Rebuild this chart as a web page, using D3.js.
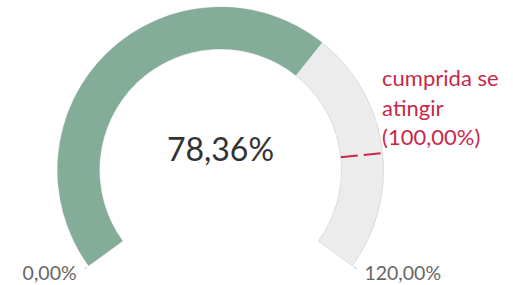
<!DOCTYPE html>
<meta charset="utf-8">
<style>
  body { margin: 0; background: #fff; }
  text { font-family: Lato, "Open Sans", sans-serif; }
</style>
<div id="gauge"></div>
<script src="https://d3js.org/d3.v7.min.js"></script>
<script>

// data
var value = 78.36;
var target = 100;
var domainMax = 120;
var tickValues = [0, 120];
var tickLabels = ["0,00%", "120,00%"];
var valueLabel = "78,36%";
var targetLabel = ["cumprida se", "atingir", "(100,00%)"];

var width = 513, height = 285;
var cx = 220.5, cy = 170;
var rOuter = 163, rInner = 121;

var svg = d3.select("#gauge")
  .append("svg")
    .attr("width", width)
    .attr("height", height);

var g = svg.append("g")
    .attr("transform", "translate(" + cx + "," + cy + ")");

// angle scale, 0 = 12 o'clock
var angle = d3.scaleLinear()
    .domain([0, domainMax])
    .range([-0.7 * Math.PI, 0.7 * Math.PI]);

var arc = d3.arc()
    .innerRadius(rInner)
    .outerRadius(rOuter);

// background track
g.append("path")
    .attr("d", arc({startAngle: angle(0), endAngle: angle(domainMax)}))
    .attr("fill", "#ececec")
    .attr("stroke", "#dcdcdc")
    .attr("stroke-width", 1);

// value arc
g.append("path")
    .attr("d", arc({startAngle: angle(0), endAngle: angle(value)}))
    .attr("fill", "#83ad98");

// point on circle for a value
function pt(v, r) {
  var a = angle(v);
  return [r * Math.sin(a), -r * Math.cos(a)];
}

// target marker
var p1 = pt(target, rInner), p2 = pt(target, rOuter);
g.append("line")
    .attr("x1", p1[0]).attr("y1", p1[1])
    .attr("x2", p2[0]).attr("y2", p2[1])
    .attr("stroke", "#c8284a")
    .attr("stroke-width", 2)
    .attr("stroke-dasharray", "17,6");

var tl = g.append("text")
    .attr("y", -84)
    .attr("fill", "#c8284a")
    .attr("font-size", 22);
tl.selectAll("tspan")
  .data(targetLabel)
  .enter().append("tspan")
    .attr("x", p2[0] - 0.5)
    .attr("dy", function(d, i) { return i === 0 ? 0 : 29.5; })
    .text(function(d) { return d; });

// end ticks + labels
tickValues.forEach(function(v, i) {
  var a = pt(v, rOuter + 2), b = pt(v, rOuter + 5);
  g.append("line")
      .attr("x1", a[0]).attr("y1", a[1])
      .attr("x2", b[0]).attr("y2", b[1])
      .attr("stroke", "#bbb")
      .attr("stroke-width", 1);
  g.append("text")
      .attr("x", i === 0 ? b[0] - 8 : b[0] + 8)
      .attr("y", 110)
      .attr("text-anchor", i === 0 ? "end" : "start")
      .attr("fill", "#666")
      .attr("font-size", 19.5)
      .text(tickLabels[i]);
});

// center value
g.append("text")
    .attr("x", 0)
    .attr("y", -9)
    .attr("text-anchor", "middle")
    .attr("fill", "#333")
    .attr("font-size", 32)
    .text(valueLabel);

</script>
